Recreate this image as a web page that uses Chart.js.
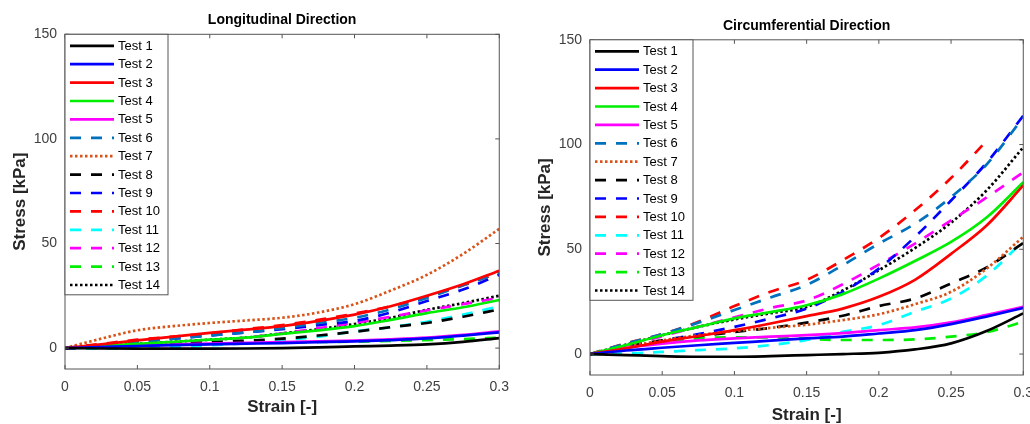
<!DOCTYPE html>
<html>
<head>
<meta charset="utf-8">
<script src="https://cdn.jsdelivr.net/npm/chart.js@4.4.1/dist/chart.umd.min.js"></script>
<style>
  html, body { margin: 0; padding: 0; background: #fff; overflow: hidden; width: 1030px; height: 424px; }
  #wrapL { position: absolute; left: 0; top: 0; width: 519px; height: 424px; }
  #wrapR { position: absolute; left: 520px; top: 0; width: 523px; height: 424px; }
</style>
</head>
<body>
<div id="wrapL"><canvas id="longChart"></canvas></div>
<div id="wrapR"><canvas id="circChart"></canvas></div>
<script>
// strain points (x) shared by every curve
const strain = [0, 0.025, 0.05, 0.075, 0.1, 0.125, 0.15, 0.175, 0.2, 0.225, 0.25, 0.275, 0.3];

const testLabels = ["Test 1", "Test 2", "Test 3", "Test 4", "Test 5", "Test 6", "Test 7",
  "Test 8", "Test 9", "Test 10", "Test 11", "Test 12", "Test 13", "Test 14"];

const xTicks = [0, 0.05, 0.1, 0.15, 0.2, 0.25, 0.3];
const xTickLabels = ["0", "0.05", "0.1", "0.15", "0.2", "0.25", "0.3"];
const yTicks = [0, 50, 100, 150];
const yTickLabels = ["0", "50", "100", "150"];

// Longitudinal direction, stress [kPa]
const long1 = [0, -0.2, -0.3, -0.3, -0.3, -0.2, 0, 0.3, 0.8, 1.2, 1.8, 3, 4.8];
const long2 = [0, 0.5, 1, 1.4, 1.8, 2.1, 2.4, 2.8, 3.2, 3.8, 4.6, 6, 7.5];
const long3 = [0, 1.8, 3.7, 5.5, 7.3, 8.8, 10.5, 13, 16, 20, 25, 30.5, 37];
const long4 = [0, 1, 2, 3, 4, 5, 6.8, 8.5, 10.5, 13.5, 16.7, 19.5, 23];
const long5 = [0, 0.6, 1.2, 1.7, 2.2, 2.5, 2.8, 3.2, 3.6, 4.2, 5, 6.3, 8];
const long6 = [0, 1.5, 3, 4.5, 6, 7.5, 9.5, 12, 14.5, 18.5, 24, 30, 36];
const long7 = [0, 4.5, 8.5, 10.5, 12, 13.2, 14.5, 17, 21, 27.5, 35, 45, 57];
const long8 = [0, 0.5, 1.2, 2, 2.7, 3.5, 4.5, 6, 7.8, 10, 12, 15, 18.5];
const long9 = [0, 1.5, 3, 4.5, 6, 7.5, 9, 11, 13, 17, 22.5, 28, 35];
const long10 = [0, 2, 4, 5.5, 7, 9, 11, 13.5, 16.5, 20, 24.5, 30, 36];
const long11 = [0, -0.3, 0, 0.5, 1.3, 2.3, 3.7, 5.5, 8, 10, 12.6, 16, 20];
const long12 = [0, 0.5, 1, 2, 3.3, 5, 7, 9.5, 12, 15, 18, 21, 24];
const long13 = [0, 0.5, 1, 1.7, 2.2, 2.5, 2.7, 2.9, 3.1, 3.4, 3.8, 4.3, 5];
const long14 = [0, 1, 2, 3, 4, 5, 7, 9, 11.5, 14.5, 18.3, 21.5, 25];

// Circumferential direction, stress [kPa]
const circ1 = [0, -0.5, -1, -1.3, -1.3, -1, -0.5, 0, 0.6, 2.2, 5.1, 11.1, 19.4];
const circ2 = [0, 1.7, 3, 4.2, 5.3, 6.4, 7.5, 8.3, 9.8, 11.4, 14.3, 18, 22];
const circ3 = [0, 2.7, 5.9, 8.6, 11.4, 14.6, 18.1, 21.7, 27.3, 35.4, 47.8, 61.6, 80.5];
const circ4 = [0, 4.3, 9, 13, 17, 20, 23.3, 28.6, 36, 44.4, 53.5, 65.4, 82];
const circ5 = [0, 3, 5, 6.5, 7.5, 8.3, 9, 10, 11.4, 12.7, 15.1, 18.7, 22.5];
const circ6 = [0, 5, 9.5, 15, 21, 27, 33, 42.4, 52.7, 62.2, 74.9, 90.8, 113];
const circ7 = [0, 3.5, 6.5, 9, 11, 12.5, 14, 16.2, 19, 23.8, 29.7, 41, 56];
const circ8 = [0, 3.5, 6.5, 8.5, 10.5, 12.5, 15, 18.3, 22.9, 26.5, 33.7, 41.5, 53];
const circ9 = [0, 3, 6.5, 9.5, 13, 17, 21.7, 29.7, 40.8, 55.9, 73.3, 91.6, 113.8];
const circ10 = [0, 5.1, 9.5, 15.4, 22.9, 29.7, 35.4, 44.8, 55.4, 68.6, 84, 102, null];
const circ11 = [0, 0.3, 1, 1.9, 2.7, 4.3, 6.7, 10.6, 13.8, 20.2, 26.5, 37.6, 54];
const circ12 = [0, 4, 8.5, 13, 17.5, 22, 25.6, 33.3, 42.7, 52.7, 63.8, 74.9, 86.8];
const circ13 = [0, 3, 6, 7.5, 8, 8, 7.3, 6.7, 6.7, 7, 8.3, 10.5, 15.4];
const circ14 = [0, 4.5, 9, 13, 16.5, 19.5, 22.5, 30.3, 40, 50.6, 62.7, 78.4, 98.7];

const longSeries = [long1, long2, long3, long4, long5, long6, long7, long8, long9, long10, long11, long12, long13, long14];
const circSeries = [circ1, circ2, circ3, circ4, circ5, circ6, circ7, circ8, circ9, circ10, circ11, circ12, circ13, circ14];

// line styles (MATLAB-like)
const lineColors = ["#000000", "#0000ff", "#ff0000", "#00ee00", "#ff00ff", "#0072bd", "#d95319",
  "#000000", "#0000ff", "#ff0000", "#00ffff", "#ff00ff", "#00ee00", "#000000"];
const DASH = [11, 10];
const DOT = [2.5, 2.5];
const lineDashes = [[], [], [], [], [], DASH, DOT, DASH, DASH, DASH, DASH, DASH, DASH, DOT];

Chart.defaults.font.family = "'Liberation Sans', Arial, sans-serif";

// box round the plot area + inward tick marks on all four sides
const axisBox = {
  id: "axisBox",
  afterDatasetsDraw(chart) {
    const { ctx, chartArea: { left, right, top, bottom }, scales: { x, y } } = chart;
    ctx.save();
    ctx.strokeStyle = "#555";
    ctx.lineWidth = 1;
    ctx.setLineDash([]);
    ctx.strokeRect(left, top, right - left, bottom - top);
    ctx.beginPath();
    x.ticks.forEach((t) => {
      const px = x.getPixelForValue(t.value);
      ctx.moveTo(px, bottom); ctx.lineTo(px, bottom - 4);
      ctx.moveTo(px, top); ctx.lineTo(px, top + 4);
    });
    y.ticks.forEach((t) => {
      const py = y.getPixelForValue(t.value);
      ctx.moveTo(left, py); ctx.lineTo(left + 4, py);
      ctx.moveTo(right, py); ctx.lineTo(right - 4, py);
    });
    ctx.stroke();
    ctx.restore();
  },
};

// legend box in the top-left corner of the plot
const boxLegend = {
  id: "boxLegend",
  afterDatasetsDraw(chart) {
    const { ctx, chartArea } = chart;
    const x0 = chartArea.left, y0 = chartArea.top;
    const sets = chart.data.datasets;
    const rowH = 18.4;
    const w = 103, h = 11.5 + rowH * (sets.length - 1) + 9.8;
    ctx.save();
    ctx.fillStyle = "#fff";
    ctx.fillRect(x0, y0, w, h);
    ctx.strokeStyle = "#555";
    ctx.lineWidth = 1;
    ctx.strokeRect(x0, y0, w, h);
    ctx.font = "13px 'Liberation Sans', Arial, sans-serif";
    ctx.textBaseline = "middle";
    sets.forEach((ds, i) => {
      const yy = y0 + 11.5 + i * rowH;
      ctx.strokeStyle = ds.borderColor;
      ctx.lineWidth = ds.borderWidth;
      ctx.setLineDash(ds.borderDash || []);
      ctx.beginPath();
      ctx.moveTo(x0 + 5, yy);
      ctx.lineTo(x0 + 49, yy);
      ctx.stroke();
      ctx.fillStyle = "#000";
      ctx.fillText(ds.label, x0 + 53, yy + 0.5);
    });
    ctx.restore();
  },
};

function makeChart(id, title, series, lay) {
  const datasets = series.map((vals, i) => ({
    label: testLabels[i],
    data: vals.map((v, j) => ({ x: strain[j], y: v })),
    borderColor: lineColors[i],
    borderWidth: 2.7,
    borderDash: lineDashes[i],
    pointRadius: 0,
    fill: false,
    cubicInterpolationMode: "monotone",
  }));

  return new Chart(document.getElementById(id), {
    type: "line",
    data: { datasets },
    options: {
      responsive: true,
      maintainAspectRatio: false,
      animation: false,
      layout: { padding: { top: 0, right: 0, bottom: 0, left: 0 } },
      plugins: {
        legend: { display: false },
        tooltip: { enabled: false },
        title: {
          display: true,
          fullSize: false,
          text: title,
          color: "#000",
          font: { size: 14, weight: "bold" },
          padding: { top: lay.titleTop, bottom: lay.titleBottom },
        },
      },
      scales: {
        x: {
          type: "linear",
          min: 0,
          max: 0.3,
          grid: { display: false, drawTicks: false },
          border: { display: false },
          afterBuildTicks: (axis) => { axis.ticks = xTicks.map((v) => ({ value: v })); },
          afterFit: (axis) => { axis.height = lay.xHeight; },
          ticks: {
            padding: 10,
            color: "#404040",
            font: { size: 14 },
            maxRotation: 0,
            callback: (v) => xTickLabels[xTicks.indexOf(v)],
          },
          title: {
            display: true,
            text: "Strain [-]",
            color: "#262626",
            font: { size: 17, weight: "bold" },
            padding: { top: 0, bottom: lay.xTitleBottom },
          },
        },
        y: {
          min: -10,
          max: 150,
          grid: { display: false, drawTicks: false },
          border: { display: false },
          afterBuildTicks: (axis) => { axis.ticks = yTicks.map((v) => ({ value: v })); },
          afterFit: (axis) => { axis.width = lay.yWidth; },
          ticks: {
            padding: 8,
            color: "#404040",
            font: { size: 14 },
            callback: (v) => yTickLabels[yTicks.indexOf(v)],
          },
          title: {
            display: true,
            text: "Stress [kPa]",
            color: "#262626",
            font: { size: 17, weight: "bold" },
            padding: { top: lay.yTitleLeft, bottom: 0 },
          },
        },
      },
    },
    plugins: [axisBox, boxLegend],
  });
}

makeChart("longChart", "Longitudinal Direction", longSeries,
  { titleTop: 12, titleBottom: 5.5, xHeight: 55, xTitleBottom: 6, yWidth: 65, yTitleLeft: 10 });
makeChart("circChart", "Circumferential Direction", circSeries,
  { titleTop: 18, titleBottom: 5, xHeight: 49, xTitleBottom: -2, yWidth: 70, yTitleLeft: 15 });
</script>
</body>
</html>
